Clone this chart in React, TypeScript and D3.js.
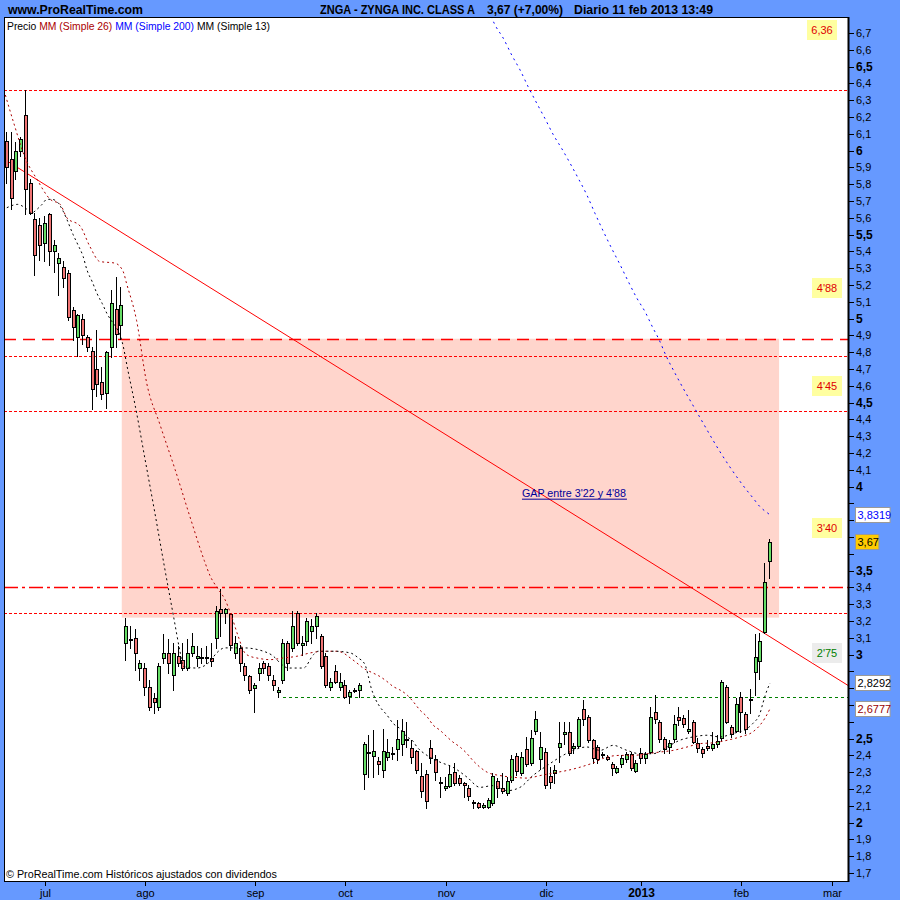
import React from "react";
import * as d3 from "d3";

// Daily sessions for ZNGA, 20 jun 2012 – 11 feb 2013: [open, high, low, close]
const ohlc: number[][] = [
  [6.06, 6.11, 5.81, 5.90], [5.95, 6.11, 5.65, 5.72], [5.88, 6.05, 5.83, 6.0], [6.0, 6.08, 5.97, 6.07],
  [6.21, 6.36, 5.62, 5.77], [5.81, 5.83, 5.62, 5.63], [5.59, 5.63, 5.26, 5.38], [5.56, 5.6, 5.35, 5.44],
  [5.45, 5.61, 5.34, 5.57], [5.62, 5.63, 5.32, 5.4], [5.4, 5.47, 5.28, 5.44], [5.33, 5.39, 5.14, 5.36],
  [5.31, 5.34, 5.19, 5.24], [5.27, 5.29, 4.99, 5.01], [5.05, 5.07, 4.87, 4.95], [4.89, 5.03, 4.78, 5.02],
  [5.0, 5.03, 4.85, 4.9], [4.89, 4.9, 4.81, 4.83], [4.81, 4.83, 4.46, 4.58], [4.7, 4.93, 4.54, 4.61],
  [4.62, 4.71, 4.52, 4.55], [4.56, 4.81, 4.47, 4.8], [4.83, 5.17, 4.77, 5.09], [5.06, 5.25, 4.83, 4.91],
  [4.96, 5.19, 4.88, 5.08],
  [3.07, 3.22, 2.97, 3.17], [3.085, 3.17, 3.04, 3.09], [3.1, 3.15, 2.91, 3.01], [2.92, 2.97, 2.85, 2.95],
  [2.92, 2.95, 2.76, 2.81], [2.81, 2.85, 2.67, 2.69], [2.74, 2.77, 2.65, 2.72], [2.69, 2.95, 2.67, 2.93],
  [2.98, 3.12, 2.95, 3.01], [3.01, 3.09, 2.89, 2.95], [2.88, 3.07, 2.79, 3.01], [2.99, 3.05, 2.93, 2.95],
  [2.97, 3.07, 2.91, 2.92], [2.92, 3.09, 2.91, 3.01], [3.01, 3.13, 2.99, 3.05], [2.98, 3.05, 2.93, 2.99],
  [2.98, 3.04, 2.95, 2.985], [2.98, 3.05, 2.95, 2.985], [2.98, 3.07, 2.93, 2.96], [3.1, 3.29, 3.04, 3.26],
  [3.27, 3.39, 3.11, 3.25], [3.25, 3.28, 3.19, 3.27], [3.24, 3.25, 3.03, 3.06], [3.01, 3.11, 2.98, 3.07],
  [3.04, 3.06, 2.9, 2.95], [2.93, 2.95, 2.85, 2.88], [2.87, 2.88, 2.77, 2.79], [2.8, 2.83, 2.66, 2.82],
  [2.89, 2.95, 2.85, 2.92], [2.95, 2.96, 2.89, 2.92], [2.93, 2.95, 2.85, 2.88], [2.85, 2.88, 2.79, 2.82],
  [2.775, 2.81, 2.75, 2.79], [2.85, 3.09, 2.83, 3.07], [3.07, 3.08, 2.91, 2.95], [3.04, 3.26, 3.02, 3.17],
  [3.25, 3.26, 3.06, 3.07], [3.06, 3.11, 3.0, 3.07], [3.08, 3.22, 3.06, 3.2], [3.14, 3.21, 3.07, 3.17],
  [3.17, 3.25, 3.1, 3.23], [3.11, 3.12, 2.92, 2.93], [2.99, 3.01, 2.81, 2.82], [2.805, 2.86, 2.79, 2.835],
  [2.9, 2.94, 2.83, 2.835], [2.805, 2.89, 2.79, 2.835], [2.82, 2.85, 2.74, 2.75], [2.756, 2.79, 2.71, 2.775],
  [2.785, 2.8, 2.775, 2.79], [2.79, 2.83, 2.75, 2.82],
  [2.29, 2.48, 2.2, 2.47], [2.412, 2.52, 2.27, 2.422], [2.396, 2.55, 2.27, 2.426], [2.364, 2.39, 2.29, 2.346],
  [2.313, 2.555, 2.27, 2.426], [2.39, 2.5, 2.373, 2.42], [2.41, 2.45, 2.38, 2.414], [2.437, 2.611, 2.373, 2.496],
  [2.466, 2.615, 2.402, 2.545], [2.5, 2.6, 2.45, 2.498], [2.442, 2.492, 2.353, 2.392], [2.426, 2.432, 2.293, 2.313],
  [2.277, 2.353, 2.154, 2.188], [2.287, 2.313, 2.085, 2.13], [2.442, 2.492, 2.353, 2.383], [2.378, 2.402, 2.254, 2.303],
  [2.244, 2.273, 2.154, 2.234], [2.204, 2.273, 2.194, 2.218], [2.218, 2.343, 2.214, 2.287], [2.303, 2.353, 2.224, 2.234],
  [2.268, 2.283, 2.224, 2.234], [2.234, 2.244, 2.154, 2.224], [2.204, 2.224, 2.134, 2.159], [2.12, 2.134, 2.085, 2.119],
  [2.115, 2.125, 2.085, 2.091], [2.091, 2.115, 2.085, 2.105], [2.091, 2.144, 2.085, 2.134], [2.115, 2.293, 2.105, 2.279],
  [2.248, 2.264, 2.154, 2.204], [2.204, 2.293, 2.174, 2.19], [2.174, 2.273, 2.164, 2.248], [2.254, 2.402, 2.244, 2.378],
  [2.394, 2.412, 2.283, 2.31], [2.293, 2.422, 2.283, 2.392], [2.436, 2.512, 2.339, 2.349], [2.353, 2.551, 2.343, 2.502],
  [2.545, 2.664, 2.528, 2.615], [2.378, 2.54, 2.32, 2.452], [2.422, 2.442, 2.204, 2.224], [2.277, 2.333, 2.204, 2.244],
  [2.293, 2.343, 2.234, 2.313], [2.452, 2.601, 2.363, 2.472], [2.53, 2.6, 2.47, 2.54], [2.541, 2.601, 2.402, 2.412],
  [2.442, 2.472, 2.412, 2.456], [2.456, 2.631, 2.452, 2.615], [2.674, 2.73, 2.581, 2.615], [2.631, 2.64, 2.48, 2.492],
  [2.492, 2.5, 2.357, 2.383], [2.452, 2.462, 2.357, 2.377], [2.408, 2.422, 2.392, 2.41], [2.392, 2.4, 2.37, 2.377],
  [2.347, 2.363, 2.283, 2.323], [2.303, 2.337, 2.293, 2.323], [2.347, 2.4, 2.333, 2.383], [2.377, 2.422, 2.363, 2.408],
  [2.408, 2.422, 2.313, 2.323], [2.309, 2.373, 2.303, 2.353], [2.412, 2.442, 2.353, 2.383], [2.383, 2.422, 2.353, 2.406],
  [2.422, 2.69, 2.412, 2.627], [2.66, 2.76, 2.591, 2.615], [2.597, 2.611, 2.482, 2.498], [2.496, 2.512, 2.412, 2.436],
  [2.452, 2.492, 2.412, 2.472], [2.498, 2.64, 2.482, 2.585], [2.631, 2.69, 2.581, 2.611], [2.625, 2.64, 2.571, 2.585],
  [2.545, 2.67, 2.532, 2.555], [2.597, 2.611, 2.472, 2.482], [2.472, 2.502, 2.422, 2.442], [2.436, 2.452, 2.392, 2.412],
  [2.456, 2.492, 2.432, 2.442], [2.446, 2.541, 2.432, 2.466], [2.466, 2.522, 2.452, 2.486], [2.502, 2.849, 2.492, 2.835],
  [2.805, 2.82, 2.591, 2.597], [2.567, 2.581, 2.512, 2.527], [2.545, 2.74, 2.541, 2.704], [2.746, 2.78, 2.541, 2.656],
  [2.644, 2.66, 2.532, 2.557], [2.734, 2.793, 2.65, 2.738], [2.894, 3.12, 2.76, 2.984], [2.964, 3.13, 2.853, 3.083],
  [3.136, 3.543, 3.127, 3.43], [3.557, 3.688, 3.454, 3.67],
];

// Month labels and the session index where each month begins
const monthLabels = ["jul", "ago", "sep", "oct", "nov", "dic", "2013", "feb", "mar"];
const monthStart = [8, 29, 52, 71, 92, 113, 133, 154, 173];

// Price axis ticks, every 0,1
const priceTicks = d3.range(17, 68).map((k) => k / 10);

// Moving averages read as [session index, value]
const sma13: number[][] = [
  [0, 5.66], [2.3, 5.68], [3.8, 5.66], [5.3, 5.63], [6.3, 5.65], [7.4, 5.68], [8.4, 5.71], [9.5, 5.71],
  [10.7, 5.69], [11.8, 5.64], [12.6, 5.59], [13.9, 5.5], [14.9, 5.44], [16, 5.37], [16.8, 5.29], [17.9, 5.22],
  [18.9, 5.15], [20, 5.09], [21, 5.03], [22.1, 4.98], [23.1, 4.94], [24.2, 4.86], [25.4, 4.69], [27, 4.47],
  [29, 4.16], [31, 3.85], [33, 3.53], [35, 3.22], [36.3, 3.02], [37, 2.93], [39.8, 2.92], [42.6, 2.96],
  [44, 3.01], [45.7, 3.04], [49.6, 3.04], [53.8, 3.02], [55.9, 2.99], [57.3, 2.95], [59, 2.92], [62.2, 2.92],
  [64.3, 3.0], [65.3, 3.02], [68.8, 3.02], [72, 3.01], [73.7, 2.98], [75.1, 2.94], [75.8, 2.87], [76.3, 2.81],
  [77.2, 2.74], [78.2, 2.69], [79.7, 2.64], [81, 2.59], [82.4, 2.56], [83.9, 2.51], [85, 2.49], [86, 2.45],
  [88.1, 2.4], [90.8, 2.36], [93.5, 2.33], [96.5, 2.27], [99.2, 2.21], [101.9, 2.22], [104.9, 2.19], [107.6, 2.21],
  [110.3, 2.28], [113.3, 2.34], [116, 2.39], [118.7, 2.43], [121.6, 2.45], [124.4, 2.43], [127.1, 2.46], [130, 2.43],
  [132.7, 2.41], [135.5, 2.41], [138.4, 2.45], [141.1, 2.49], [143.9, 2.51], [146.8, 2.52], [149.5, 2.51],
  [152.2, 2.53], [155.2, 2.56], [156.4, 2.59], [157.9, 2.65], [158.5, 2.71], [159.4, 2.79], [160, 2.8292],
];
const sma26: number[][] = [
  [-0.6, 6.36], [1.5, 6.16], [3.8, 5.96], [6.3, 5.83], [9.1, 5.71], [11.2, 5.68], [12.6, 5.6], [15.4, 5.55],
  [17.4, 5.43], [19.5, 5.34], [22.7, 5.33], [24.4, 5.28], [25.1, 5.21], [27.2, 4.99], [29.3, 4.62], [32.1, 4.37],
  [35.3, 4.1], [38.4, 3.82], [41.4, 3.56], [42.6, 3.47], [44.3, 3.39], [45.7, 3.33], [47.1, 3.23], [48.5, 3.11],
  [49.9, 3.01], [51, 2.99], [52.4, 2.98], [55.2, 2.97], [58, 2.98], [60.8, 2.99], [63.6, 3.01], [66.4, 3.02],
  [69.2, 3.02], [70.5, 3.01], [72, 2.98], [73.4, 2.95], [74.7, 2.92], [76.8, 2.89], [78.2, 2.87], [79.7, 2.84],
  [81, 2.81], [82.4, 2.79], [83.9, 2.76], [85.2, 2.72], [86.6, 2.67], [88.1, 2.63], [89.4, 2.58], [90.8, 2.55],
  [92.3, 2.51], [93.5, 2.48], [95, 2.45], [96.5, 2.41], [97.7, 2.37], [99.2, 2.33], [100.7, 2.3], [103.4, 2.28],
  [106.1, 2.27], [109.1, 2.265], [111.8, 2.28], [114.5, 2.295], [117.4, 2.31], [120.2, 2.33], [122.9, 2.355],
  [125.8, 2.39], [128.6, 2.4], [131.3, 2.4], [134.2, 2.41], [136.9, 2.42], [139.7, 2.43], [142.6, 2.45],
  [145.3, 2.47], [148.1, 2.475], [151, 2.49], [153.7, 2.51], [156.4, 2.54], [157.9, 2.58], [158.9, 2.62], [160, 2.6777],
];
const sma200: number[][] = [
  [101.5, 6.8], [102.35, 6.748], [104.1, 6.668], [105.85, 6.569], [107.6, 6.48], [109.3, 6.38], [111.1, 6.282],
  [112.8, 6.192], [114.6, 6.093], [116.3, 6.014], [118.1, 5.924], [119.8, 5.835], [121.6, 5.736], [123.3, 5.627],
  [125.1, 5.517], [126.8, 5.418], [128.6, 5.319], [130.3, 5.22], [132.1, 5.121], [133.8, 5.041], [135.5, 4.942],
  [136.6, 4.883], [138.3, 4.773], [140.1, 4.674], [141.8, 4.585], [143.6, 4.496], [146, 4.377], [147.8, 4.288],
  [149.5, 4.208], [151.3, 4.129], [153, 4.059], [154.8, 3.99], [156.5, 3.93], [157.9, 3.88], [159.3, 3.847], [160, 3.8319],
];

// Drawn annotations
const levelValues = [6.36, 4.88, 4.78, 4.45, 3.4, 3.25, 2.75];
const supportStart = 57.9; // session where the 2,75 support line begins
const trendAnchors: number[][] = [[0, 5.939], [160, 3.106]];
const gapLow = 3.22;
const gapHigh = 4.88;
const gapFrom = 24.1;
const gapTo = 161.9;
const gapText = "GAP entre 3'22 y 4'88";
const tagTexts = ["6,36", "4'88", "4'45", "3'40", "2'75"];

const FONT = "'Liberation Sans', Arial, Helvetica, sans-serif";
const comma = (v: number, d: number) => v.toFixed(d).replace(".", ",");

export default function App() {
  const W = 900, H = 900;
  const L = 4, R = 848, T = 17, B = 881;
  const x = d3.scaleLinear().domain([-0.587, 176.35]).range([L, R]);
  const y = d3.scaleLinear().domain([1.7, 6.7]).range([873, 33]);

  const line = d3
    .line<number[]>()
    .x((d) => x(d[0]))
    .y((d) => y(d[1]))
    .curve(d3.curveMonotoneX);

  const [i0, v0] = trendAnchors[0];
  const [i1, v1] = trendAnchors[1];
  const slope = (v1 - v0) / (i1 - i0);
  const [dA, dB] = x.domain();
  const trendPts = [
    [dA, v0 + slope * (dA - i0)],
    [dB, v0 + slope * (dB - i0)],
  ];

  const levelStyle: { color: string; dash: string; width: number; from?: number }[] = [
    { color: "#ff0000", dash: "3,2", width: 1 },
    { color: "#ff0000", dash: "12,7", width: 1.5 },
    { color: "#ff0000", dash: "3,2", width: 1 },
    { color: "#ff0000", dash: "3,2", width: 1 },
    { color: "#ff0000", dash: "14,4,3,4", width: 1.5 },
    { color: "#ff0000", dash: "3,2", width: 1 },
    { color: "#008000", dash: "3,3", width: 1, from: supportStart },
  ];

  // tag boxes at the right side of the plot: [left, top] in px
  const tagBoxes = [
    [807, 20], [812, 278], [812, 376], [812, 518], [812, 643],
  ];

  const last = ohlc[ohlc.length - 1];
  const prev = ohlc[ohlc.length - 2];
  const change = (last[3] / prev[3] - 1) * 100;

  const priceBoxes = [
    { v: sma200[sma200.length - 1][1], txt: comma(sma200[sma200.length - 1][1], 4), color: "#0000ff", bg: "#ffffff" },
    { v: last[3], txt: comma(last[3], 2), color: "#000000", bg: "#ffcc00" },
    { v: sma13[sma13.length - 1][1], txt: comma(sma13[sma13.length - 1][1], 4), color: "#000000", bg: "#ffffff" },
    { v: sma26[sma26.length - 1][1], txt: comma(sma26[sma26.length - 1][1], 4), color: "#990000", bg: "#ffffff" },
  ];
  const boxYs = priceBoxes.map((b) => Math.round(y(b.v)));
  // axis labels that sit underneath a last-value box are covered by it
  const covered = (yy: number) => boxYs.some((by) => Math.abs(by - yy) < 13);

  const gx0 = x(gapFrom), gx1 = x(gapTo);
  const textX = x(108);
  const textY = y(3.94);

  return (
    <svg
      width={W}
      height={H}
      viewBox={`0 0 ${W} ${H}`}
      style={{ position: "absolute", left: 0, top: 0, fontFamily: FONT }}
    >
      <defs>
        <clipPath id="plotClip">
          <rect x={L} y={T} width={R - L} height={B - T} />
        </clipPath>
      </defs>
      <rect x={0} y={0} width={W} height={H} fill="#6699ff" />
      <rect x={L} y={T} width={R - L} height={B - T} fill="#ffffff" />

      {/* header */}
      <text x={8} y={14} fontSize={12} fontWeight="bold" fill="#000" textLength={135} lengthAdjust="spacingAndGlyphs">
        www.ProRealTime.com
      </text>
      <text x={320} y={14} fontSize={12} fontWeight="bold" fill="#000" textLength={155} lengthAdjust="spacingAndGlyphs">
        ZNGA - ZYNGA INC. CLASS A
      </text>
      <text x={487} y={14} fontSize={12} fontWeight="bold" fill="#000" textLength={76} lengthAdjust="spacingAndGlyphs">
        {`${comma(last[3], 2)} (+${comma(change, 2)}%)`}
      </text>
      <text x={574} y={14} fontSize={12} fontWeight="bold" fill="#000" textLength={139} lengthAdjust="spacingAndGlyphs">
        Diario  11 feb 2013 13:49
      </text>

      <g clipPath="url(#plotClip)">
        {/* gap zone */}
        <rect x={gx0} y={y(gapHigh)} width={gx1 - gx0} height={y(gapLow) - y(gapHigh)} fill="#ffd5cc" />

        {/* horizontal levels */}
        {levelValues.map((v, k) => {
          const s = levelStyle[k];
          const yy = Math.round(y(v)) + 0.5;
          return (
            <line
              key={k}
              x1={s.from !== undefined ? x(s.from) : L}
              x2={R}
              y1={yy}
              y2={yy}
              stroke={s.color}
              strokeWidth={s.width}
              strokeDasharray={s.dash}
            />
          );
        })}

        {/* trend line */}
        <line
          x1={x(trendPts[0][0])}
          y1={y(trendPts[0][1])}
          x2={x(trendPts[1][0])}
          y2={y(trendPts[1][1])}
          stroke="#ff0000"
          strokeWidth={1}
        />

        {/* gap caption */}
        <text x={textX} y={textY} fontSize={11} fill="#000099" textLength={104} lengthAdjust="spacingAndGlyphs">
          {gapText}
        </text>
        <line x1={textX} x2={textX + 105} y1={textY + 2.5} y2={textY + 2.5} stroke="#000099" strokeWidth={1} />

        {/* candles */}
        <g shapeRendering="crispEdges">
          {ohlc.map(([o, h, l, c], i) => {
            const cx = Math.round(x(i));
            const yt = Math.round(y(Math.max(o, c)));
            const yb = Math.round(y(Math.min(o, c)));
            const up = c >= o;
            return (
              <g key={i}>
                <line
                  x1={cx - 0.5}
                  x2={cx - 0.5}
                  y1={Math.round(y(h))}
                  y2={Math.round(y(l)) + 1}
                  stroke="#000"
                  strokeWidth={1}
                />
                <rect
                  x={cx - 1.5}
                  y={yt + 0.5}
                  width={3}
                  height={Math.max(yb - yt, 1)}
                  fill={up ? "#66dd66" : "#f07474"}
                  stroke="#000"
                  strokeWidth={1}
                />
              </g>
            );
          })}
        </g>

        {/* moving averages */}
        <path d={line(sma200) || ""} fill="none" stroke="#0000ff" strokeWidth={1} strokeDasharray="2,4" />
        <path d={line(sma26) || ""} fill="none" stroke="#aa0000" strokeWidth={1} strokeDasharray="2,3" />
        <path d={line(sma13) || ""} fill="none" stroke="#000000" strokeWidth={1} strokeDasharray="2,3" />

        {/* level tags */}
        {tagTexts.map((t, k) => {
          const [bx, by] = tagBoxes[k];
          const grey = k === tagTexts.length - 1;
          return (
            <g key={t}>
              <rect x={bx} y={by} width={30} height={20} fill={grey ? "#ececec" : "#ffffa0"} />
              <text x={bx + 15} y={by + 14} fontSize={11} textAnchor="middle" fill={grey ? "#008000" : "#e00000"}>
                {t}
              </text>
            </g>
          );
        })}

        {/* legend */}
        <text x={7} y={30} fontSize={11} fill="#000" textLength={263} lengthAdjust="spacingAndGlyphs">
          <tspan fill="#000">Precio </tspan>
          <tspan fill="#aa0000">MM (Simple 26) </tspan>
          <tspan fill="#0000ff">MM (Simple 200) </tspan>
          <tspan fill="#000">MM (Simple 13)</tspan>
        </text>
        <text x={6} y={878} fontSize={11} fill="#000" textLength={271} lengthAdjust="spacingAndGlyphs">
          © ProRealTime.com Históricos ajustados con dividendos
        </text>
      </g>

      {/* plot frame */}
      <rect x={L + 0.5} y={T + 0.5} width={R - L} height={B - T} fill="none" stroke="#000" strokeWidth={1} />
      <line x1={R + 0.5} x2={R + 0.5} y1={T} y2={B + 1} stroke="#000" strokeWidth={2} />

      {/* price axis */}
      <g shapeRendering="crispEdges">
        {priceTicks.map((v) => {
          const yy = Math.round(y(v)) + 0.5;
          return <line key={v} x1={R + 1} x2={R + 6} y1={yy} y2={yy} stroke="#000" strokeWidth={1} />;
        })}
      </g>
      {priceTicks.map((v) => {
        const k = Math.round(v * 10);
        if (covered(y(v))) return null;
        const major = k % 5 === 0;
        const label = k % 10 === 0 ? String(k / 10) : comma(v, 1);
        return (
          <text
            key={v}
            x={856}
            y={y(v) + 4}
            fontSize={major ? 12 : 11}
            fontWeight={major ? "bold" : "normal"}
            fill="#000"
          >
            {label}
          </text>
        );
      })}

      {/* last-value boxes */}
      {priceBoxes.map((b, k) => {
        const w = b.txt.length * 5.6 + 1;
        const yy = boxYs[k];
        return (
          <g key={k}>
            <rect x={855.5} y={yy - 7.5} width={w} height={15} fill={b.bg} stroke="#999999" strokeWidth={1} />
            <text x={857.5} y={yy + 4} fontSize={11} fill={b.color}>
              {b.txt}
            </text>
          </g>
        );
      })}

      {/* time axis */}
      {monthStart.map((m, k) => {
        const mx = Math.round(x(m)) + 0.5;
        const bold = monthLabels[k] === "2013";
        return (
          <g key={m}>
            <line x1={mx} x2={mx} y1={B + 1} y2={B + 5} stroke="#000" strokeWidth={1} />
            <text
              x={mx}
              y={897}
              fontSize={bold ? 12 : 11}
              fontWeight={bold ? "bold" : "normal"}
              textAnchor="middle"
              fill="#000"
            >
              {monthLabels[k]}
            </text>
          </g>
        );
      })}
    </svg>
  );
}
